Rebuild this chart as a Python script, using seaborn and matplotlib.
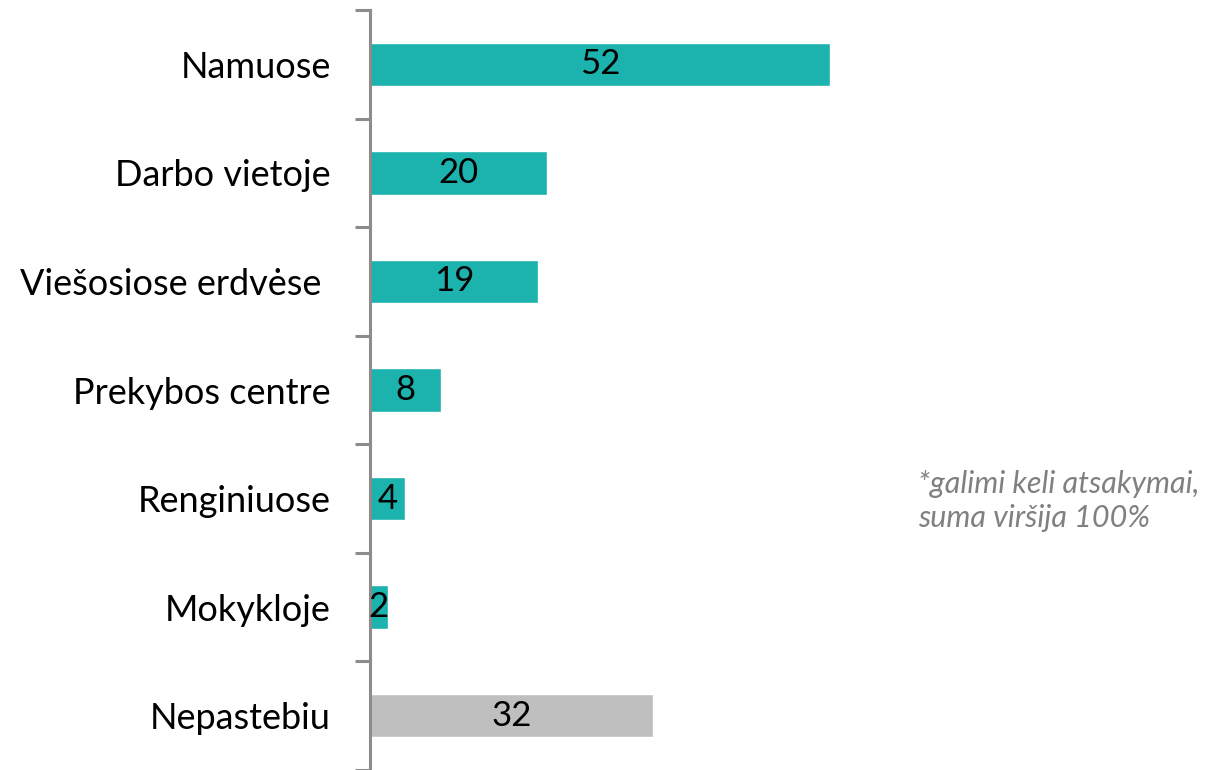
import matplotlib
matplotlib.use("Agg")
import matplotlib.pyplot as plt
import seaborn as sns
import pandas as pd
from matplotlib.ticker import FixedLocator

categories = ["Namuose", "Darbo vietoje", "Viešosiose erdvėse ", "Prekybos centre",
              "Renginiuose", "Mokykloje", "Nepastebiu"]
values = [52, 20, 19, 8, 4, 2, 32]
groups = ["a", "a", "a", "a", "a", "a", "b"]
note = "*galimi keli atsakymai,\nsuma viršija 100%"

sns.set_style("white")
plt.rcParams['font.family'] = ['Lato', 'DejaVu Sans']

df = pd.DataFrame({"cat": categories, "val": values, "grp": groups})
fig = plt.figure(figsize=(12.27, 7.7), dpi=100)
ax = fig.add_axes([370/1227, 0, 850/1227, 760/770])
sns.barplot(data=df, y="cat", x="val", hue="grp", palette={"a": "#1CB2AE", "b": "#BFBFBF"},
            dodge=False, width=0.4, legend=False, ax=ax, saturation=1, orient="h")
ax.set_xlim(0, 96)
ax.set_ylim(len(categories) - 0.5, -0.5)
for c in ax.containers:
    ax.bar_label(c, label_type="center", fontsize=25, color="black", padding=0)
for s in ["top", "right", "bottom"]:
    ax.spines[s].set_visible(False)
ax.spines["left"].set_color("#8C8C8C")
ax.spines["left"].set_linewidth(2.2)
ax.set_xticks([])
ax.set_xlabel("")
ax.set_ylabel("")
ax.tick_params(axis="y", which="major", length=0, pad=28, labelsize=26, labelcolor="black")
ax.yaxis.set_minor_locator(FixedLocator([i - 0.5 for i in range(len(categories) + 1)]))
ax.tick_params(axis="y", which="minor", length=11, width=2.2, color="#8C8C8C", left=True)
fig.text(918/1227, 1 - 470/770, note, fontsize=22, style="italic", color="#808080",
         va="top", ha="left", linespacing=1.25)
fig.savefig("out.png", dpi=100)
